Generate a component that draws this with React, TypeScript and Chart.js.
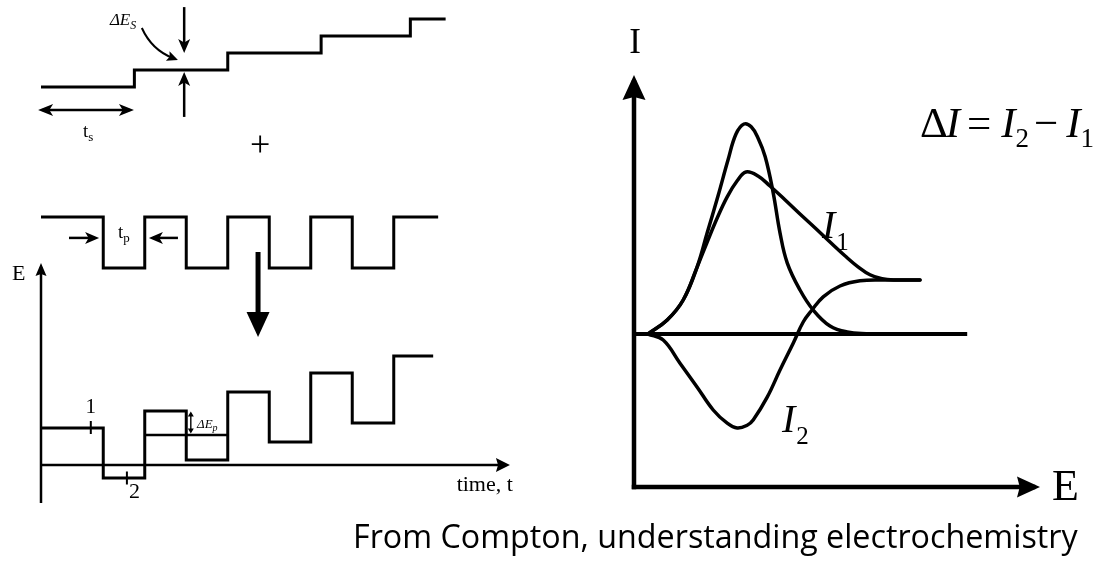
import React, { useEffect, useRef } from "react";
import { Chart, registerables } from "chart.js";

Chart.register(...registerables);

const W = 1117;
const H = 561;
const INK = "#000";
const SERIF = '"Liberation Serif","Times New Roman",serif';
const SANS = '"Open Sans","Noto Sans",sans-serif';

// ---------- data: left panels (time in units of half a pulse period) ----------
const STAIR_T = [0, 2.25, 4.5, 6.75, 8.9, 9.75];
const STAIR_E = [0, 1, 2, 3, 4, 4];

const PULSE_T = [0, 1.5, 2.5, 3.5, 4.5, 5.5, 6.5, 7.5, 8.5, 9.57];
const PULSE_E = [1, 0, 1, 0, 1, 0, 1, 0, 1, 1];

const DPV_T = [0, 1.5, 2.5, 3.5, 4.5, 5.5, 6.5, 7.5, 8.5, 9.45];
const DPV_E = [3.7, -1.3, 5.4, 0.5, 7.3, 2.3, 9.2, 4.2, 10.9, 10.9];

const DPV_STAIR_T = [2.5, 4.5];
const DPV_STAIR_E = [3.0, 3.0];

// ---------- data: right panel (current vs potential) ----------
const BASE_E = [0, 8.33];
const BASE_I = [0, 0];

const DI_E = [0.35, 0.83, 1.23, 1.58, 1.83, 2.1, 2.35, 2.55, 2.75, 2.93, 3.1, 3.28, 3.48, 3.65, 3.83, 4.15, 4.48, 4.9, 5.33, 5.9];
const DI_I = [0, 0.35, 0.85, 1.68, 2.53, 3.45, 4.35, 5.0, 5.25, 5.18, 4.9, 4.43, 3.53, 2.53, 1.78, 1.1, 0.6, 0.2, 0.05, 0];

const I1_E = [0.35, 0.83, 1.23, 1.58, 1.83, 2.08, 2.33, 2.58, 2.8, 3.1, 3.4, 3.78, 4.15, 4.53, 4.9, 5.28, 5.6, 5.9, 6.2, 6.53, 7.15];
const I1_I = [0, 0.35, 0.85, 1.68, 2.3, 2.9, 3.43, 3.83, 4.05, 3.95, 3.7, 3.35, 3.0, 2.65, 2.3, 1.95, 1.68, 1.48, 1.38, 1.35, 1.35];

const I2_E = [0.35, 0.73, 1.15, 1.58, 1.98, 2.33, 2.58, 2.83, 2.98, 3.33, 3.65, 3.98, 4.23, 4.45, 4.73, 5.15, 5.65, 6.28, 7.15];
const I2_I = [0, -0.15, -0.73, -1.33, -1.9, -2.23, -2.35, -2.28, -2.15, -1.58, -0.9, -0.23, 0.3, 0.6, 0.93, 1.2, 1.33, 1.35, 1.35];

const CAPTION = "From Compton, understanding electrochemistry";

// ---------- layout (pixel placement of each panel's scale) ----------
const xRange = (px0: number, ppu: number) => ({ min: -px0 / ppu, max: (W - px0) / ppu });
const yRange = (px0: number, ppu: number) => ({ min: (px0 - H) / ppu, max: px0 / ppu });

const AX: Record<string, [string, string]> = {
  A: ["xT", "yS"],
  B: ["xT", "yP"],
  C: ["xT", "yC"],
  R: ["xE", "yI"],
};

type ArrowSpec = {
  ax: string;
  from: [number, number];
  to: [number, number];
  lw: number;
  head: number;
  half: number;
  both?: boolean;
  notch?: number;
  cap?: CanvasLineCap;
};

const ARROWS: ArrowSpec[] = [
  { ax: "A", from: [3.45, 4.7], to: [3.45, 2.0], lw: 2.5, head: 14, half: 6, notch: 0.25 },
  { ax: "A", from: [3.45, -1.76], to: [3.45, 0.88], lw: 2.5, head: 14, half: 6, notch: 0.25 },
  { ax: "A", from: [-0.07, -1.35], to: [2.24, -1.35], lw: 2.5, head: 15, half: 6, both: true, notch: 0.25 },
  { ax: "B", from: [0.675, 0.59], to: [1.4, 0.59], lw: 2.5, head: 14, half: 6, notch: 0.25 },
  { ax: "B", from: [3.3, 0.59], to: [2.6, 0.59], lw: 2.5, head: 14, half: 6, notch: 0.25 },
  { ax: "B", from: [5.23, 0.314], to: [5.23, -1.353], lw: 5, head: 25, half: 11.5, notch: 0 },
  { ax: "C", from: [0, -3.8], to: [0, 20.2], lw: 2.5, head: 13, half: 5.5, notch: 0.15 },
  { ax: "C", from: [0, 0], to: [11.3, 0], lw: 2.5, head: 14, half: 7, notch: 0.15 },
  { ax: "C", from: [3.61, 5.35], to: [3.61, 3.15], lw: 1.4, head: 5, half: 3, both: true, notch: 0 },
  { ax: "R", from: [0, -3.825], to: [0, 6.475], lw: 4.5, head: 25, half: 11.5, notch: 0.12, cap: "square" },
  { ax: "R", from: [0, -3.825], to: [10.15, -3.825], lw: 4.5, head: 23, half: 10.5, notch: 0.12, cap: "square" },
];

const TICKS: { ax: string; from: [number, number]; to: [number, number]; lw: number }[] = [
  { ax: "C", from: [1.2, 3.1], to: [1.2, 4.4], lw: 2 },
  { ax: "C", from: [2.07, -0.65], to: [2.07, -1.95], lw: 2 },
];

const CURVES = [
  { ax: "A", p0: [2.43, 3.47], c: [2.67, 2.18], p1: [3.3, 1.59], lw: 2, head: 11, half: 5 },
];

const f = (size: number, style = "") => `${style} ${size}px ${SERIF}`.trim();

type Part = { t: string; font: string; dy?: number; gap?: number };
type TextSpec = { ax: string; at: [number, number]; parts: Part[]; align?: "left" | "center" | "right" };

const TEXTS: TextSpec[] = [
  { ax: "A", at: [1.66, 3.65], parts: [{ t: "ΔE", font: f(17, "italic") }, { t: "S", font: f(12, "italic"), dy: 4 }] },
  { ax: "A", at: [1.01, -2.94], parts: [{ t: "t", font: f(19) }, { t: "s", font: f(13), dy: 4 }] },
  { ax: "A", at: [5.28, -4.04], parts: [{ t: "+", font: f(36) }], align: "center" },
  { ax: "B", at: [1.855, 0.59], parts: [{ t: "t", font: f(19) }, { t: "p", font: f(13), dy: 4 }] },
  { ax: "C", at: [1.2, 5.2], parts: [{ t: "1", font: f(21) }], align: "center" },
  { ax: "C", at: [2.25, -3.3], parts: [{ t: "2", font: f(22) }], align: "center" },
  { ax: "C", at: [3.76, 3.7], parts: [{ t: "ΔE", font: f(13, "italic") }, { t: "p", font: f(10, "italic"), dy: 3 }] },
  { ax: "C", at: [-0.7, 18.5], parts: [{ t: "E", font: f(22) }] },
  { ax: "C", at: [11.37, -2.6], parts: [{ t: "time, t", font: f(22) }], align: "right" },
  { ax: "R", at: [0.025, 7.025], parts: [{ t: "I", font: f(35) }], align: "center" },
  { ax: "R", at: [10.45, -4.15], parts: [{ t: "E", font: f(44) }] },
  { ax: "R", at: [4.7, 2.4], parts: [{ t: "I", font: f(40, "italic") }, { t: "1", font: f(25), dy: 12, gap: 1 }] },
  { ax: "R", at: [3.7, -2.45], parts: [{ t: "I", font: f(40, "italic") }, { t: "2", font: f(25), dy: 12, gap: 1 }] },
  {
    ax: "R",
    at: [7.15, 4.925],
    parts: [
      { t: "Δ", font: f(43) },
      { t: "I", font: f(43, "italic"), gap: -2 },
      { t: "=", font: f(43), gap: 7 },
      { t: "I", font: f(43, "italic"), gap: 10 },
      { t: "2", font: f(27), dy: 10, gap: 0 },
      { t: "−", font: f(43), gap: 5 },
      { t: "I", font: f(43, "italic"), gap: 8 },
      { t: "1", font: f(27), dy: 10, gap: 0 },
    ],
  },
];

function drawHead(ctx: CanvasRenderingContext2D, x: number, y: number, ux: number, uy: number, len: number, half: number, notch: number) {
  const bx = x - ux * len;
  const by = y - uy * len;
  const px = -uy;
  const py = ux;
  ctx.beginPath();
  ctx.moveTo(x, y);
  ctx.lineTo(bx + px * half, by + py * half);
  ctx.lineTo(bx + ux * len * notch, by + uy * len * notch);
  ctx.lineTo(bx - px * half, by - py * half);
  ctx.closePath();
  ctx.fill();
}

const overlayPlugin = {
  id: "overlay",
  afterDatasetsDraw(chart: any) {
    const ctx = chart.ctx as CanvasRenderingContext2D;
    const sc = chart.scales;
    const pt = (ax: string, v: number[]) => {
      const [xa, ya] = AX[ax];
      return [sc[xa].getPixelForValue(v[0]), sc[ya].getPixelForValue(v[1])];
    };
    ctx.save();
    ctx.fillStyle = INK;
    ctx.strokeStyle = INK;

    for (const a of ARROWS) {
      const [x1, y1] = pt(a.ax, a.from);
      const [x2, y2] = pt(a.ax, a.to);
      const d = Math.hypot(x2 - x1, y2 - y1);
      const ux = (x2 - x1) / d;
      const uy = (y2 - y1) / d;
      const n = a.notch ?? 0;
      const inset = a.head * Math.max(n, 0.3);
      const sx = a.both ? x1 + ux * inset : x1;
      const sy = a.both ? y1 + uy * inset : y1;
      ctx.lineWidth = a.lw;
      ctx.lineCap = a.cap ?? "butt";
      ctx.beginPath();
      ctx.moveTo(sx, sy);
      ctx.lineTo(x2 - ux * inset, y2 - uy * inset);
      ctx.stroke();
      drawHead(ctx, x2, y2, ux, uy, a.head, a.half, n);
      if (a.both) drawHead(ctx, x1, y1, -ux, -uy, a.head, a.half, n);
    }

    ctx.lineCap = "butt";
    for (const t of TICKS) {
      const [x1, y1] = pt(t.ax, t.from);
      const [x2, y2] = pt(t.ax, t.to);
      ctx.lineWidth = t.lw;
      ctx.beginPath();
      ctx.moveTo(x1, y1);
      ctx.lineTo(x2, y2);
      ctx.stroke();
    }

    for (const c of CURVES) {
      const [x0, y0] = pt(c.ax, c.p0);
      const [cx, cy] = pt(c.ax, c.c);
      const [x1, y1] = pt(c.ax, c.p1);
      const d = Math.hypot(x1 - cx, y1 - cy);
      const ux = (x1 - cx) / d;
      const uy = (y1 - cy) / d;
      ctx.lineWidth = c.lw;
      ctx.beginPath();
      ctx.moveTo(x0, y0);
      ctx.quadraticCurveTo(cx, cy, x1 - ux * c.head * 0.5, y1 - uy * c.head * 0.5);
      ctx.stroke();
      drawHead(ctx, x1, y1, ux, uy, c.head, c.half, 0.2);
    }

    ctx.textBaseline = "alphabetic";
    ctx.textAlign = "left";
    for (const t of TEXTS) {
      const [x, y] = pt(t.ax, t.at);
      let total = 0;
      const widths = t.parts.map((p) => {
        ctx.font = p.font;
        return ctx.measureText(p.t).width;
      });
      t.parts.forEach((p, i) => {
        total += (i > 0 ? p.gap ?? 0 : 0) + widths[i];
      });
      let cx = t.align === "center" ? x - total / 2 : t.align === "right" ? x - total : x;
      t.parts.forEach((p, i) => {
        if (i > 0) cx += p.gap ?? 0;
        ctx.font = p.font;
        ctx.fillText(p.t, cx, y + (p.dy ?? 0));
        cx += widths[i];
      });
    }

    // caption, fitted to its width in the reference
    ctx.font = `32px ${SANS}`;
    const cw = ctx.measureText(CAPTION).width;
    const size = (32 * 725) / cw;
    ctx.font = `${size}px ${SANS}`;
    ctx.fillText(CAPTION, 353, 548);

    ctx.restore();
  },
};

const mk = (xs: number[], ys: number[]) => xs.map((x, i) => ({ x, y: ys[i] }));

export default function App() {
  const ref = useRef<HTMLCanvasElement | null>(null);

  useEffect(() => {
    if (!ref.current) return;
    const line = (xs: number[], ys: number[], xa: string, ya: string, bw: number, extra: any = {}) => ({
      data: mk(xs, ys),
      xAxisID: xa,
      yAxisID: ya,
      showLine: true,
      borderColor: INK,
      backgroundColor: INK,
      borderWidth: bw,
      borderJoinStyle: "miter",
      pointRadius: 0,
      fill: false,
      clip: false,
      ...extra,
    });
    const smooth = { tension: 0.4, borderJoinStyle: "round", borderCapStyle: "round" };
    const chart = new Chart(ref.current, {
      type: "scatter",
      data: {
        datasets: [
          line(STAIR_T, STAIR_E, "xT", "yS", 3, { stepped: "before" }),
          line(PULSE_T, PULSE_E, "xT", "yP", 3, { stepped: "before" }),
          line(DPV_T, DPV_E, "xT", "yC", 3, { stepped: "before" }),
          line(DPV_STAIR_T, DPV_STAIR_E, "xT", "yC", 2.5),
          line(BASE_E, BASE_I, "xE", "yI", 4),
          line(DI_E, DI_I, "xE", "yI", 3.5, smooth),
          line(I1_E, I1_I, "xE", "yI", 3.5, smooth),
          line(I2_E, I2_I, "xE", "yI", 3.5, smooth),
        ] as any,
      },
      options: {
        animation: false,
        responsive: false,
        maintainAspectRatio: false,
        devicePixelRatio: 1,
        layout: { padding: 0 },
        events: [],
        plugins: { legend: { display: false }, tooltip: { enabled: false }, title: { display: false } },
        scales: {
          xT: { type: "linear", axis: "x", display: false, ...xRange(41, 41.5) },
          xE: { type: "linear", axis: "x", display: false, ...xRange(634, 40) },
          yS: { type: "linear", axis: "y", display: false, ...yRange(87, 17) },
          yP: { type: "linear", axis: "y", display: false, ...yRange(268, 51) },
          yC: { type: "linear", axis: "y", display: false, ...yRange(465, 10) },
          yI: { type: "linear", axis: "y", display: false, ...yRange(334, 40) },
        } as any,
      },
      plugins: [overlayPlugin],
    });
    return () => chart.destroy();
  }, []);

  return (
    <div style={{ position: "absolute", left: 0, top: 0, width: W, height: H, background: "#fff" }}>
      <canvas ref={ref} width={W} height={H} style={{ display: "block", width: W, height: H }} />
    </div>
  );
}
